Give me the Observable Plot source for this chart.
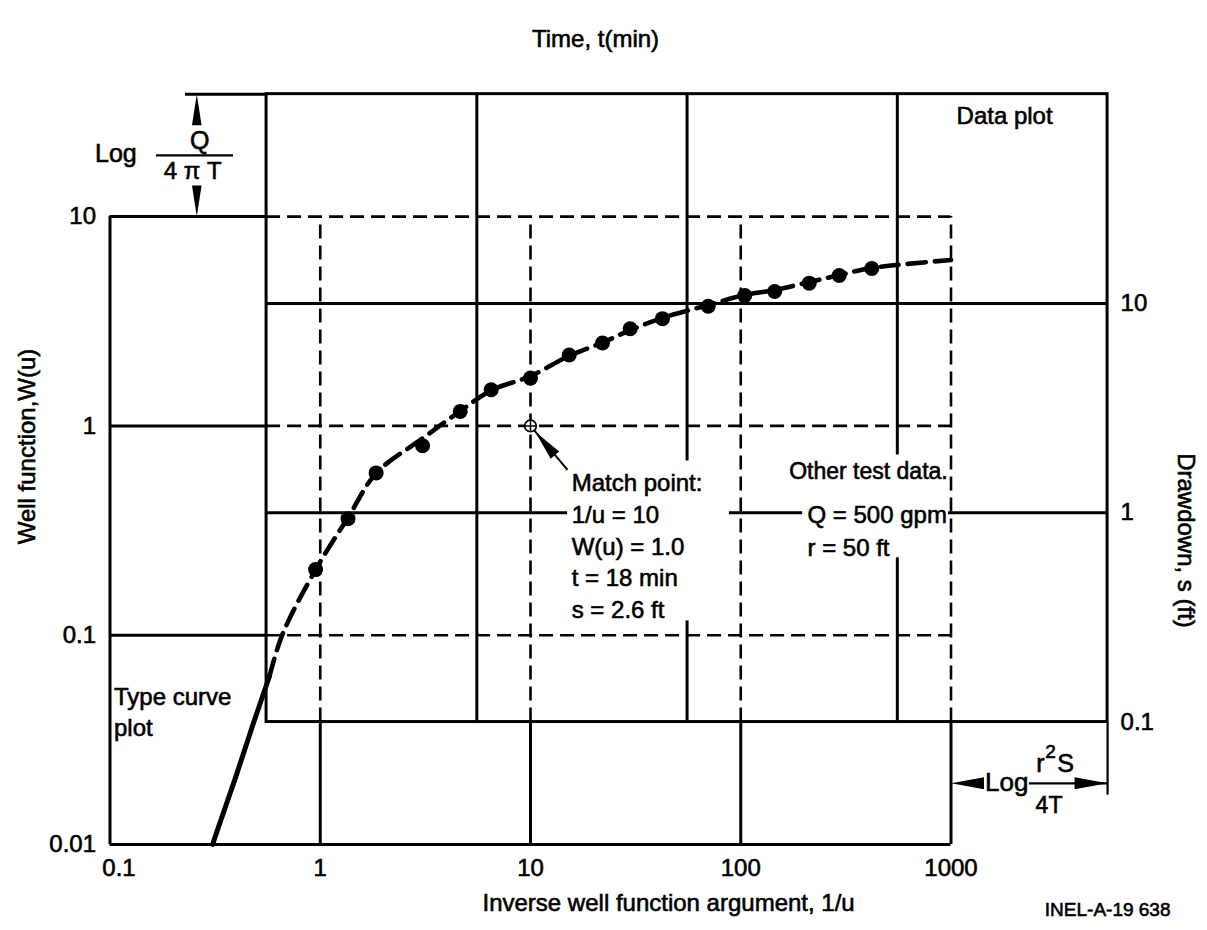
<!DOCTYPE html>
<html>
<head>
<meta charset="utf-8">
<script src="https://cdn.jsdelivr.net/npm/d3@7"></script>
<script src="https://cdn.jsdelivr.net/npm/@observablehq/plot@0.6"></script>
<style>
  html, body { margin: 0; padding: 0; background: #fff; }
  svg { display: block; }
  svg text { stroke: #000; stroke-width: 0.6px; }
</style>
</head>
<body>
<script>
// ---------------- data ----------------
// Type-curve plot axes (inverse well function argument 1/u, well function W(u))
const typeTicks = [0.1, 1, 10, 100, 1000];
const wTicks = [0.01, 0.1, 1, 10];
// Data plot axes (time t in min, drawdown s in ft)
const timeTicks = [1, 10, 100, 1000];
const timeExtent = [1, 10000];
const sTicks = [0.1, 1, 10];
const sExtent = [0.1, 100];

// Type curve W(u) vs 1/u
const curveInvU = [0.3075, 0.343, 0.395, 0.476, 0.574, 0.661, 0.952, 1.36, 1.85, 3.06, 4.65, 6.52, 10.0, 15.3, 22.0, 29.9, 42.4, 70.2, 104, 145, 212, 295, 419, 1000];
const curveW    = [0.01, 0.0138, 0.0208, 0.0368, 0.0638, 0.101, 0.206, 0.367, 0.596, 0.87, 1.18, 1.48, 1.73, 2.16, 2.50, 2.87, 3.28, 3.78, 4.22, 4.46, 4.87, 5.26, 5.68, 6.20];

// Observed drawdown data (t in min, s in ft)
const obsT = [1.71, 2.44, 3.32, 5.52, 8.34, 11.7, 18.0, 27.5, 39.6, 53.6, 76.4, 126, 188, 261, 381, 529, 756];
const obsS = [0.535, 0.937, 1.55, 2.09, 3.05, 3.87, 4.40, 5.67, 6.47, 7.57, 8.46, 9.69, 10.9, 11.4, 12.5, 13.6, 14.7];

// Match point
const match = {invU: 10, W: 1.0, t: 18, s: 2.6};
const otherData = {Q: 500, r: 50};

// ---------------- helpers ----------------
const ux = t => t * match.invU / match.t;   // time -> 1/u
const wy = s => s * match.W / match.s;      // drawdown -> W
const fmt = d3.format("~g");

const tL = ux(timeExtent[0]), tR = ux(timeExtent[1]);
const sB = wy(sExtent[0]), sT = wy(sExtent[1]);

const W = 1207, H = 930;
const pxDecX = 210.25, pxDecY = 209.3;
const xLeft = 109.5, yBottom = 844;
const xRight = xLeft + pxDecX * Math.log10(tR / typeTicks[0]);
const yTop = yBottom - pxDecY * Math.log10(sT / wTicks[0]);

const curve = curveInvU.map((x, i) => ({x, w: curveW[i]}));
const split = curve.findIndex(d => d.x >= tL);
const curveSolid = curve.slice(0, split + 1);
const curveDashed = curve.slice(split);
const obs = obsT.map((t, i) => ({t, s: obsS[i]}));

const SW = 3, SWD = 2.6, DASH = "14,7";
const FONT = "'Liberation Sans', Arial, Helvetica, sans-serif";
const FS = 24;

const matchText = `Match point:\n1/u = ${match.invU}\nW(u) = ${match.W.toFixed(1)}\nt = ${match.t} min\ns = ${match.s} ft`;
const ymTop = Math.sqrt(wTicks[wTicks.length - 1] * sT);   // between the two plot tops
const ydBot = Math.sqrt(wTicks[0] * sB);                   // between the two plot bottoms
const frameMidY = (yTop + yBottom) / 2;
const frameMidX = (xLeft + xRight) / 2;

const chart = Plot.plot({
  width: W, height: H,
  marginLeft: xLeft, marginRight: W - xRight, marginTop: yTop, marginBottom: H - yBottom,
  x: {type: "log", domain: [typeTicks[0], tR], range: [xLeft, xRight], axis: null},
  y: {type: "log", domain: [wTicks[0], sT], range: [yBottom, yTop], axis: null},
  style: {fontFamily: FONT, fontSize: FS + "px", color: "black", background: "white"},
  marks: [
    // ---- data plot (solid) ----
    Plot.rect([0], {x1: tL, x2: tR, y1: sB, y2: sT, fill: "none", stroke: "black", strokeWidth: SW}),
    Plot.ruleX(timeTicks.slice(1).map(ux), {y1: sB, y2: sT, stroke: "black", strokeWidth: SW}),
    Plot.ruleY(sTicks.slice(1).map(wy), {x1: tL, x2: tR, stroke: "black", strokeWidth: SW}),
    // extension lines for the dimension marks
    Plot.ruleY([sT], {x1: 0.2286, x2: tL, stroke: "black", strokeWidth: SW}),
    Plot.ruleX([tR], {y1: 0.0172, y2: sB, stroke: "black", strokeWidth: 2.2}),

    // ---- white panels behind text ----
    Plot.rect([0], {x1: 15.0, x2: 88.4, y1: 0.117, y2: 0.68, fill: "white"}),
    Plot.rect([0], {x1: 197, x2: 973, y1: 0.2344, y2: 0.726, fill: "white"}),

    // ---- type curve plot grid: solid outside the data plot, dashed inside ----
    Plot.ruleX(typeTicks.slice(1), {y1: sB, y2: wTicks[wTicks.length - 1], stroke: "black", strokeWidth: SWD, strokeDasharray: DASH}),
    Plot.ruleX(typeTicks.slice(1), {y1: wTicks[0], y2: sB, stroke: "black", strokeWidth: SW}),
    Plot.ruleX([typeTicks[0]], {y1: wTicks[0], y2: wTicks[wTicks.length - 1], stroke: "black", strokeWidth: SW}),
    Plot.ruleY(wTicks.slice(1), {x1: typeTicks[0], x2: tL, stroke: "black", strokeWidth: SW}),
    Plot.ruleY(wTicks.slice(1), {x1: tL, x2: typeTicks[typeTicks.length - 1], stroke: "black", strokeWidth: SWD, strokeDasharray: DASH}),
    Plot.ruleY([wTicks[0]], {x1: typeTicks[0], x2: typeTicks[typeTicks.length - 1], stroke: "black", strokeWidth: SW}),

    // ---- type curve ----
    Plot.line(curveSolid, {x: "x", y: "w", stroke: "black", strokeWidth: 5, curve: "catmull-rom"}),
    Plot.line(curveDashed, {x: "x", y: "w", stroke: "black", strokeWidth: 4.6, strokeDasharray: "18,9", curve: "catmull-rom"}),

    // ---- observed data ----
    Plot.dot(obs, {x: d => ux(d.t), y: d => wy(d.s), r: 7.5, fill: "black"}),

    // ---- match point ----
    Plot.link([match], {x1: "invU", y1: "W", x2: 15.0, y2: 0.616, stroke: "black", strokeWidth: 2}),
    Plot.vector([match], {x: "invU", y: "W", shape: "spike", anchor: "end", rotate: -40, length: 31, r: 5.5, fill: "black", stroke: "none", dx: 4.5, dy: 5.5}),
    Plot.dot([match], {x: "invU", y: "W", r: 5.8, fill: "white", stroke: "black", strokeWidth: 1.7}),
    Plot.dot([match], {x: "invU", y: "W", r: 3.8, symbol: "plus", stroke: "black", strokeWidth: 1.5}),

    // ---- annotation texts ----
    Plot.text([matchText], {x: 15.7, y: 0.629, textAnchor: "start", lineAnchor: "top", lineHeight: 1.33, fontSize: FS}),
    Plot.text(["Other test data."], {x: 170, y: 0.665, textAnchor: "start", lineAnchor: "top", fontSize: 23}),
    Plot.text([`Q = ${otherData.Q} gpm\nr = ${otherData.r} ft`], {x: 207.7, y: 0.443, textAnchor: "start", lineAnchor: "top", lineHeight: 1.37, fontSize: FS}),
    Plot.text(["Data plot"], {x: tR, y: sT, dx: -103, dy: 12.3, textAnchor: "middle", lineAnchor: "top", fontSize: FS}),
    Plot.text(["Type curve\nplot"], {x: typeTicks[0], y: 0.0591, dx: 4, textAnchor: "start", lineAnchor: "top", lineHeight: 1.3, fontSize: FS}),

    // ---- Log Q/4πT dimension ----
    Plot.vector([0], {x: 0.2587, y: sT, shape: "spike", anchor: "end", rotate: 0, length: 31, r: 4.8, fill: "black", stroke: "none"}),
    Plot.vector([0], {x: 0.2587, y: wTicks[wTicks.length - 1], shape: "spike", anchor: "end", rotate: 180, length: 31, r: 4.8, fill: "black", stroke: "none"}),
    Plot.ruleY([ymTop], {x1: 0.1664, x2: 0.3867, stroke: "black", strokeWidth: 2.2}),
    Plot.text(["Q"], {x: 0.2587, y: ymTop, dx: 3, dy: -14, textAnchor: "middle", lineAnchor: "middle", fontSize: 25}),
    Plot.text(["4 π T"], {x: 0.2587, y: ymTop, dx: -4, dy: 16, textAnchor: "middle", lineAnchor: "middle", fontSize: FS}),
    Plot.text(["Log"], {x: 0.134, y: ymTop, textAnchor: "end", lineAnchor: "middle", dy: -1, fontSize: 25}),

    // ---- Log r²S/4T dimension ----
    Plot.vector([0], {x: typeTicks[typeTicks.length - 1], y: ydBot, shape: "spike", anchor: "end", rotate: -90, length: 33, r: 6, fill: "black", stroke: "none"}),
    Plot.vector([0], {x: tR, y: ydBot, shape: "spike", anchor: "end", rotate: 90, length: 33, r: 6, fill: "black", stroke: "none"}),
    Plot.ruleY([ydBot], {x1: 2360, x2: tR, stroke: "black", strokeWidth: 2.2}),
    Plot.text(["Log"], {x: 2360, y: ydBot, dx: -1, dy: -1, textAnchor: "end", lineAnchor: "middle", fontSize: 26}),
    Plot.text(["r"], {x: 3040, y: ydBot, dx: -12, dy: -11, textAnchor: "middle", lineAnchor: "bottom", fontSize: 25}),
    Plot.text(["2"], {x: 3040, y: ydBot, dx: -2, dy: -25, textAnchor: "middle", lineAnchor: "bottom", fontSize: 19}),
    Plot.text(["S"], {x: 3040, y: ydBot, dx: 13, dy: -11, textAnchor: "middle", lineAnchor: "bottom", fontSize: 25}),
    Plot.text(["4T"], {x: 3040, y: ydBot, dx: -3.5, dy: 13, textAnchor: "middle", lineAnchor: "top", fontSize: 23}),

    // ---- axes ----
    Plot.axisX(typeTicks.slice(1), {anchor: "bottom", tickSize: 0, tickPadding: 14, label: null, tickFormat: fmt, fontSize: FS}),
    Plot.axisX([typeTicks[0]], {anchor: "bottom", tickSize: 0, tickPadding: 14, label: null, tickFormat: fmt, fontSize: FS, dx: 9}),
    Plot.axisX(timeTicks.map(ux), {anchor: "top", tickSize: 0, tickPadding: 14, label: null, tickFormat: d => fmt(d * match.t / match.invU), fontSize: FS}),
    Plot.axisY(wTicks, {anchor: "left", tickSize: 0, tickPadding: 14, label: null, tickFormat: fmt, fontSize: FS}),
    Plot.axisY(sTicks.map(wy), {anchor: "right", tickSize: 0, tickPadding: 13, label: null, tickFormat: d => fmt(d * match.s / match.W), fontSize: FS}),

    // ---- titles ----
    Plot.text(["Time, t(min)"], {frameAnchor: "top", dx: 595 - frameMidX, dy: 39 - yTop, textAnchor: "middle", lineAnchor: "middle", fontSize: FS}),
    Plot.text(["Inverse well function argument, 1/u"], {frameAnchor: "bottom-left", dx: 482 - xLeft, dy: 903 - yBottom, textAnchor: "start", lineAnchor: "middle", fontSize: FS}),
    Plot.text(["Well function,W(u)"], {frameAnchor: "left", rotate: -90, dx: 27 - xLeft, dy: 446 - frameMidY, textAnchor: "middle", lineAnchor: "middle", fontSize: FS}),
    Plot.text(["Drawdown, s (ft)"], {frameAnchor: "right", rotate: 90, dx: 1185 - xRight, dy: 540 - frameMidY, textAnchor: "middle", lineAnchor: "middle", fontSize: FS}),
    Plot.text(["INEL-A-19 638"], {frameAnchor: "bottom-right", textAnchor: "end", lineAnchor: "middle", dx: 1170 - xRight, dy: 909 - yBottom, fontSize: 19})
  ]
});
document.body.appendChild(chart);
</script>
</body>
</html>
